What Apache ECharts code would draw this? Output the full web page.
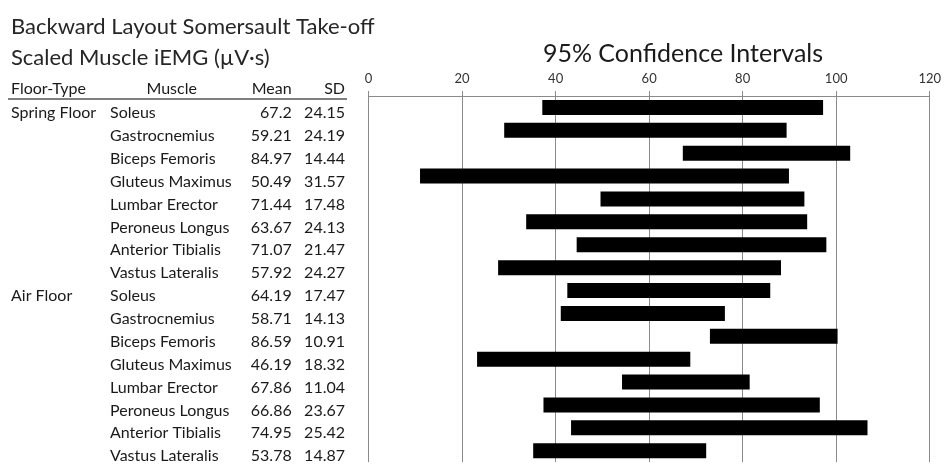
<!DOCTYPE html>
<html>
<head>
<meta charset="utf-8">
<script src="https://cdn.jsdelivr.net/npm/echarts@6/dist/echarts.min.js"></script>
<style>
html,body{margin:0;padding:0;background:#fff;}
#chart{width:944px;height:464px;}
</style>
</head>
<body>
<div id="chart"></div>
<script>
// ---- data ----
const floorTypes = ['Spring Floor', 'Air Floor'];
const muscles = ['Soleus', 'Gastrocnemius', 'Biceps Femoris', 'Gluteus Maximus', 'Lumbar Erector', 'Peroneus Longus', 'Anterior Tibialis', 'Vastus Lateralis'];
const springMean = [67.2, 59.21, 84.97, 50.49, 71.44, 63.67, 71.07, 57.92];
const springSD = [24.15, 24.19, 14.44, 31.57, 17.48, 24.13, 21.47, 24.27];
const airMean = [64.19, 58.71, 86.59, 46.19, 67.86, 66.86, 74.95, 53.78];
const airSD = [17.47, 14.13, 10.91, 18.32, 11.04, 23.67, 25.42, 14.87];
// 95% CI bounds
const springLow = [37.15, 29.0, 67.2, 11.0, 49.6, 33.7, 44.5, 27.7];
const springHigh = [97.2, 89.4, 103.0, 89.9, 93.2, 93.8, 97.9, 88.2];
const airLow = [42.5, 41.1, 73.0, 23.2, 54.2, 37.4, 43.3, 35.2];
const airHigh = [85.9, 76.2, 100.3, 68.8, 81.5, 96.5, 106.7, 72.2];
const xMin = 0, xMax = 120, xStep = 20;
const titleLines = ['Backward Layout Somersault Take-off', 'Scaled Muscle iEMG (\u00B5V\u00B7s)'];
const chartTitle = '95% Confidence Intervals';
const headers = ['Floor-Type', 'Muscle', 'Mean', 'SD'];

// ---- build rows ----
const floorCol = [], muscleCol = [], meanCol = [], sdCol = [], lows = [], highs = [];
[[springMean, springSD, springLow, springHigh], [airMean, airSD, airLow, airHigh]].forEach((g, gi) => {
  muscles.forEach((m, i) => {
    floorCol.push(i === 0 ? floorTypes[gi] : '');
    muscleCol.push(m);
    meanCol.push(String(g[0][i]));
    sdCol.push(String(g[1][i]));
    lows.push(g[2][i]);
    highs.push(g[3][i]);
  });
});
const ranges = highs.map((h, i) => +(h - lows[i]).toFixed(2));

const FONT = 'Lato';
const gridLeft = 368.6;
function colAxis(data, anchorX, align) {
  return {
    type: 'category', gridIndex: 0, position: 'left', inverse: true,
    offset: gridLeft - anchorX, data: data,
    axisLine: {show: false}, axisTick: {show: false}, splitLine: {show: false},
    axisLabel: {interval: 0, margin: 0, align: align, fontFamily: FONT, fontSize: 16,
      color: '#1a1a1a', verticalAlign: 'top', lineHeight: 11}
  };
}

const chart = echarts.init(document.getElementById('chart'), null, {renderer: 'canvas'});
chart.setOption({
  animation: false,
  backgroundColor: '#ffffff',
  grid: {left: gridLeft, top: 96, width: 563, height: 373, containLabel: false},
  xAxis: {
    type: 'value', position: 'top', min: xMin, max: xMax, interval: xStep,
    axisLine: {show: true, lineStyle: {color: '#8a8a8a', width: 1}},
    axisTick: {show: true, length: 5, lineStyle: {color: '#8a8a8a'}},
    splitLine: {show: true, lineStyle: {color: '#8a8a8a', width: 1}},
    axisLabel: {fontFamily: FONT, fontSize: 13, color: '#333', margin: 11}
  },
  yAxis: [
    colAxis(muscleCol, 110, 'left'),
    colAxis(floorCol, 11, 'left'),
    colAxis(meanCol, 291.7, 'right'),
    colAxis(sdCol, 345, 'right')
  ],
  series: [
    {type: 'bar', yAxisIndex: 0, stack: 'ci', data: lows, barWidth: 15, silent: true,
      itemStyle: {color: 'rgba(0,0,0,0)'}},
    {type: 'bar', yAxisIndex: 0, stack: 'ci', data: ranges, barWidth: 15, silent: true,
      itemStyle: {color: '#000'}}
  ],
  graphic: [
    {type: 'text', x: 11, y: 27, style: {text: titleLines[0], font: '22px ' + FONT, fill: '#262626', textAlign: 'left', textVerticalAlign: 'middle'}},
    {type: 'text', x: 11, y: 57.5, style: {text: titleLines[1], font: '22px ' + FONT, fill: '#262626', textAlign: 'left', textVerticalAlign: 'middle'}},
    {type: 'text', x: 683, y: 54, style: {text: chartTitle, font: '25px ' + FONT, fill: '#1a1a1a', textAlign: 'center', textVerticalAlign: 'middle'}},
    {type: 'text', x: 11, y: 89, style: {text: headers[0], font: '16px ' + FONT, fill: '#1a1a1a', textAlign: 'left', textVerticalAlign: 'middle'}},
    {type: 'text', x: 171.7, y: 89, style: {text: headers[1], font: '16px ' + FONT, fill: '#1a1a1a', textAlign: 'center', textVerticalAlign: 'middle'}},
    {type: 'text', x: 291.7, y: 89, style: {text: headers[2], font: '16px ' + FONT, fill: '#1a1a1a', textAlign: 'right', textVerticalAlign: 'middle'}},
    {type: 'text', x: 345, y: 89, style: {text: headers[3], font: '16px ' + FONT, fill: '#1a1a1a', textAlign: 'right', textVerticalAlign: 'middle'}},
    {type: 'line', shape: {x1: 8, y1: 99, x2: 347, y2: 99}, style: {stroke: '#7f7f7f', lineWidth: 2}}
  ]
});
</script>
</body>
</html>
